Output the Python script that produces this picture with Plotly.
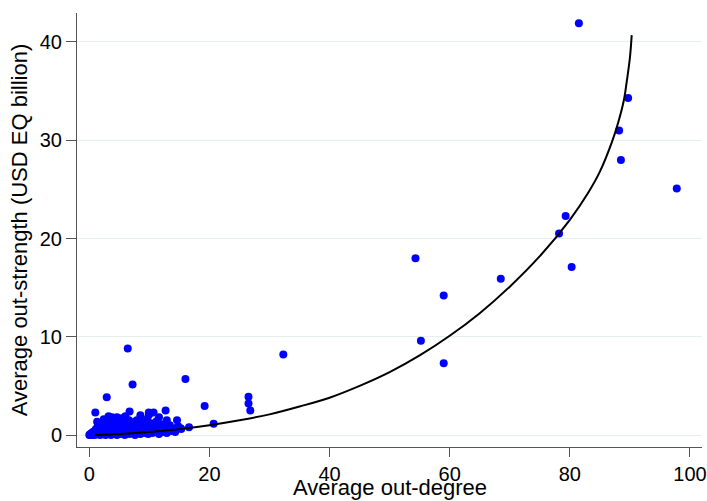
import plotly.graph_objects as go

# Scatter data: average out-degree vs average out-strength (USD EQ billion)
out_degree = [
    81.5, 89.7, 88.2, 88.5, 97.8, 79.3, 78.2, 80.3, 68.5, 54.3, 59.0, 55.2, 59.0,
    32.3, 26.5, 26.5, 26.8, 19.2, 20.7, 16.0, 16.6, 6.4, 7.2, 2.9, 14.6,
    1.0, 1.3, 2.4, 3.2, 3.8, 4.6, 5.4, 6.0, 6.7, 7.9, 8.5, 9.9, 10.7, 11.6,
    12.7, 12.9, 15.2, 9.9,
    0.0, 0.1, 0.2, 0.3, 0.4, 0.5, 0.6, 0.7, 0.8, 0.9, 1.0, 1.1, 1.2, 1.3, 1.4,
    1.5, 1.6, 1.7, 1.8, 1.9, 2.0, 2.1, 2.2, 2.3, 2.5, 2.6, 2.7, 2.8, 3.0, 3.1,
    3.2, 3.3, 3.5, 3.6, 3.7, 3.9, 4.0, 4.1, 4.2, 4.4, 4.5, 4.6, 4.8, 4.9, 5.0,
    5.1, 5.3, 5.5, 5.6, 5.7, 5.9, 6.0, 6.1, 6.3, 6.5, 6.6, 6.7, 6.9, 7.0, 7.2,
    7.3, 7.5, 7.6, 7.8, 8.0, 8.1, 8.3, 8.5, 8.7, 8.8, 9.0, 9.1, 9.3, 9.5, 9.6,
    9.8, 10.0, 10.1, 10.3, 10.5, 10.6, 10.8, 11.0, 11.2, 11.4, 11.6, 11.8, 12.0,
    12.2, 12.4, 12.6, 12.9, 13.1, 13.4, 13.7, 14.0, 14.3, 14.8, 15.3,
]
out_strength = [
    41.9, 34.3, 31.0, 28.0, 25.1, 22.3, 20.5, 17.1, 15.9, 18.0, 14.2, 9.6, 7.3,
    8.2, 3.9, 3.2, 2.5, 2.95, 1.15, 5.7, 0.8, 8.8, 5.15, 3.85, 1.5,
    2.3, 1.35, 1.6, 1.9, 1.8, 1.8, 1.7, 1.9, 2.4, 1.5, 2.0, 2.3, 2.3, 1.8,
    2.5, 1.5, 0.7, 2.0,
    0.0, 0.05, 0.1, 0.0, 0.2, 0.05, 0.3, 0.1, 0.0, 0.4, 0.15, 0.6, 0.05, 0.3, 0.9,
    0.1, 0.5, 0.2, 0.0, 0.7, 0.3, 1.0, 0.1, 0.5, 0.2, 0.8, 0.0, 0.4, 1.2, 0.1,
    0.6, 0.3, 0.9, 0.0, 0.5, 0.2, 1.1, 0.7, 0.1, 0.4, 1.4, 0.0, 0.8, 0.3, 1.0,
    0.1, 0.6, 1.3, 0.2, 0.9, 0.0, 0.5, 1.2, 0.3, 0.8, 1.5, 0.1, 0.6, 1.0, 0.2,
    1.3, 0.5, 0.0, 0.9, 0.3, 1.1, 0.6, 0.1, 0.8, 1.4, 0.4, 1.0, 0.2, 0.7, 1.6,
    0.1, 0.9, 0.4, 1.2, 0.2, 0.6, 1.0, 0.3, 1.4, 0.5, 0.1, 0.8, 1.1,
    0.3, 0.6, 0.9, 0.2, 0.5, 1.0, 0.4, 0.7, 0.3, 0.9, 0.6,
]

# Fitted curve
fit_degree = [1, 5, 10, 15, 20, 25, 30, 35, 40, 45, 50, 55, 60, 65, 70, 75, 80,
              83, 85, 87, 88, 89, 89.5, 90, 90.3]
fit_strength = [0.0, 0.1, 0.3, 0.6, 1.0, 1.5, 2.1, 2.9, 3.8, 5.0, 6.4, 8.1, 10.1,
                12.4, 15.1, 18.2, 21.9, 24.6, 26.8, 29.8, 31.7, 34.1, 36.1, 38.4, 40.7]

y_ticks = [0, 10, 20, 30, 40]
x_ticks = [0, 20, 40, 60, 80, 100]

FONT = "Liberation Sans, Arial, sans-serif"

fig = go.Figure()
fig.add_trace(go.Scatter(
    x=out_degree, y=out_strength, mode="markers",
    marker=dict(color="#0000ff", size=8, line=dict(width=0)),
    showlegend=False, hoverinfo="skip",
))
fig.add_trace(go.Scatter(
    x=fit_degree, y=fit_strength, mode="lines",
    line=dict(color="black", width=2, shape="spline", smoothing=1.0),
    showlegend=False, hoverinfo="skip",
))

PLOT_TOP, PLOT_BOTTOM = 13, 447
PLOT_H = PLOT_BOTTOM - PLOT_TOP

fig.update_layout(
    width=707, height=501,
    margin=dict(l=77, r=5, t=PLOT_TOP, b=501 - PLOT_BOTTOM),
    paper_bgcolor="white", plot_bgcolor="white",
    font=dict(family=FONT, color="black"),
    xaxis=dict(
        range=[-2.05, 102.0], tickvals=x_ticks, ticks="outside", ticklen=9,
        tickcolor="#555555", tickwidth=1, showgrid=False, zeroline=False,
        showline=True, linecolor="#555555", linewidth=1, automargin=False,
        tickfont=dict(size=20, family=FONT, color="black"),
    ),
    yaxis=dict(
        range=[-1.22, 42.95], tickvals=y_ticks, ticks="outside", ticklen=10,
        tickcolor="#555555", tickwidth=1, showgrid=True, gridcolor="#e8efef",
        gridwidth=1, zeroline=False, automargin=False,
        showline=True, linecolor="#555555", linewidth=1,
        tickfont=dict(size=20, family=FONT, color="black"),
        title=dict(text="Average out-strength (USD EQ billion)",
                   font=dict(size=22, family=FONT, color="black"), standoff=6),
    ),
    annotations=[dict(
        text="Average out-degree", xref="paper", yref="paper",
        x=0.5, y=(PLOT_BOTTOM - 487) / PLOT_H, xanchor="center", yanchor="middle",
        showarrow=False, font=dict(size=22, family=FONT, color="black"),
        borderpad=0,
    )],
)

fig.write_html("out.html", config={"displayModeBar": False},
               post_script="document.body.style.margin='0';document.body.style.padding='0';")
